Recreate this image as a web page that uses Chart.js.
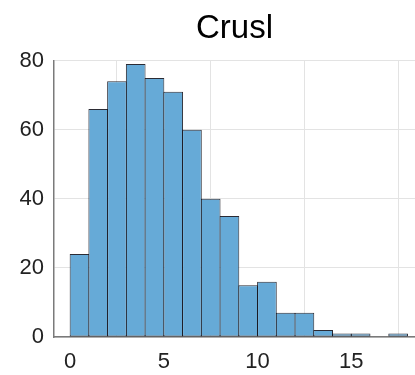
<!DOCTYPE html>
<html>
<head>
<meta charset="utf-8">
<script src="https://cdn.jsdelivr.net/npm/chart.js@4"></script>
<style>
  html, body { margin: 0; padding: 0; background: #fff; }
  #wrap { width: 415px; height: 375px; }
</style>
</head>
<body>
<div id="wrap"><canvas id="hist" width="415" height="375"></canvas></div>
<script>
// histogram of Crusl, unit-width bins starting at 0
const binEdges = [0,1,2,3,4,5,6,7,8,9,10,11,12,13,14,15,16,17,18];
const counts   = [24,66,74,79,75,71,60,40,35,15,16,7,7,2,1,1,0,1];
const xTicks = [0, 5, 10, 15];
const yTicks = [0, 20, 40, 60, 80];

const bars = counts.map((c, i) => ({
  x: (binEdges[i] + binEdges[i + 1]) / 2,
  y: c === 0 ? null : c
}));

const tickFont = { family: 'Liberation Sans, Arial, Helvetica, sans-serif', size: 22 };

new Chart(document.getElementById('hist').getContext('2d'), {
  type: 'bar',
  data: {
    datasets: [{
      data: bars,
      backgroundColor: 'rgb(102,170,215)',
      borderColor: 'rgba(20,20,30,0.9)',
      borderWidth: 1,
      borderSkipped: false,
      barPercentage: 1.05,
      categoryPercentage: 1,
      grouped: false
    }]
  },
  options: {
    responsive: false,
    animation: false,
    layout: { padding: { left: 0, right: 0, top: 1, bottom: 0 } },
    plugins: {
      legend: { display: false },
      tooltip: { enabled: false },
      title: {
        display: true,
        text: 'Crusl',
        fullSize: false,
        color: '#000',
        font: { family: 'Liberation Sans, Arial, Helvetica, sans-serif', size: 33, weight: 'normal', lineHeight: 1.2 },
        padding: { top: 8, bottom: 12 }
      }
    },
    scales: {
      x: {
        type: 'linear',
        min: -0.86,
        max: 18.4,
        offset: false,
        afterBuildTicks: s => { s.ticks = xTicks.map(v => ({ value: v })); },
        afterFit: s => { s.height = 38; },
        ticks: { color: '#222', font: tickFont, padding: 12, maxRotation: 0 },
        grid: { color: '#e3e3e3', drawTicks: false },
        border: { color: '#7a7a7a', width: 1.5 }
      },
      y: {
        min: 0,
        max: 80,
        afterBuildTicks: s => { s.ticks = yTicks.map(v => ({ value: v })); },
        afterFit: s => { s.width = 54; },
        ticks: { color: '#222', font: tickFont, padding: 10 },
        grid: { color: '#e3e3e3', drawTicks: false },
        border: { color: '#7a7a7a', width: 1.5 }
      }
    }
  }
});
</script>
</body>
</html>
